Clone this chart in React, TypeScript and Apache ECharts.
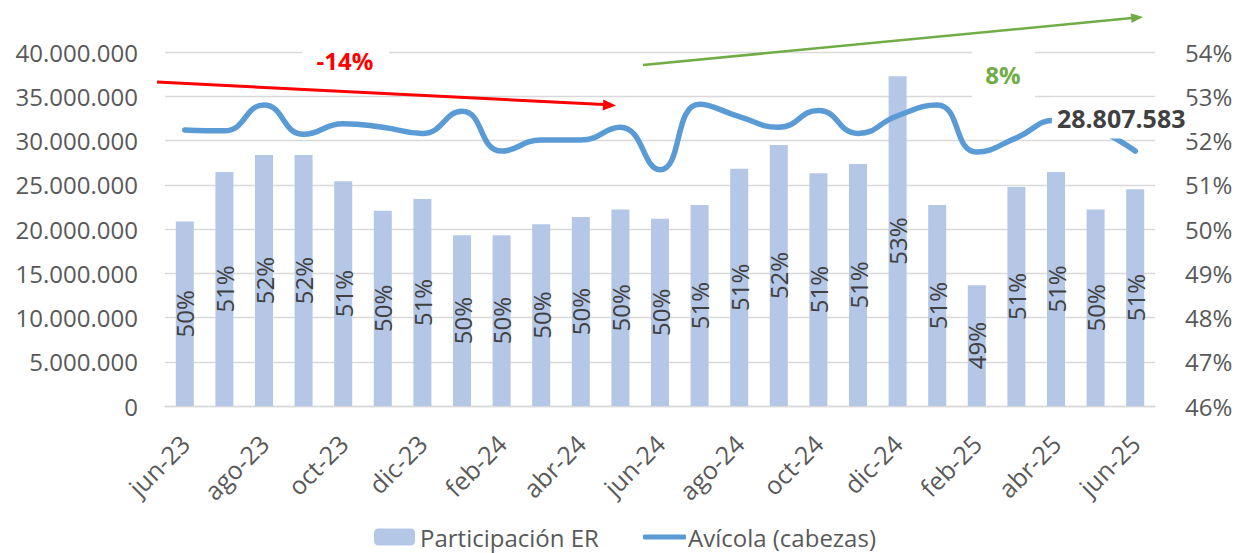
import React, { useEffect, useRef } from 'react';
import * as echarts from 'echarts';

const categories = ['jun-23','jul-23','ago-23','sep-23','oct-23','nov-23','dic-23','ene-24','feb-24','mar-24','abr-24','may-24','jun-24','jul-24','ago-24','sep-24','oct-24','nov-24','dic-24','ene-25','feb-25','mar-25','abr-25','may-25','jun-25'];
const participacionER = [50.17,51.29,51.67,51.67,51.08,50.41,50.68,49.86,49.86,50.11,50.27,50.44,50.23,50.54,51.36,51.90,51.26,51.47,53.45,50.54,48.73,50.95,51.29,50.44,50.90];
const avicola = [31200000,31100000,34000000,30700000,31900000,31500000,30800000,33300000,28800000,30050000,30050000,31500000,26700000,34100000,32700000,31500000,33400000,30800000,32800000,34000000,28700000,30300000,32300000,31300000,28807583];
const leftTicks = { min: 0, max: 40000000, interval: 5000000 };
const rightTicks = { min: 46, max: 54, interval: 1 };
const seriesNames = ['Participación ER', 'Avícola (cabezas)'];
const trendLabels = ['-14%', '8%'];

const FONT = '"Open Sans", sans-serif';
const fmt = (n: number) => String(Math.round(n)).replace(/\B(?=(\d{3})+(?!\d))/g, '.');

export default function App() {
  const ref = useRef<HTMLDivElement>(null);
  useEffect(() => {
    if (!ref.current) return;
    const chart = echarts.init(ref.current, null, { renderer: 'svg' });
    const last = avicola.length - 1;
    chart.setOption({
      animation: false,
      backgroundColor: '#ffffff',
      textStyle: { fontFamily: FONT },
      grid: { left: 165, right: 91, top: 52, bottom: 147, containLabel: false },
      legend: [
        {
          data: [seriesNames[0]], left: 369, top: 520, itemWidth: 41, itemHeight: 17, itemGap: 0,
          textStyle: { fontSize: 24, color: '#595959', fontFamily: FONT, padding: [0, 0, 0, 0] },
        },
        {
          data: [{ name: seriesNames[1], icon: 'roundRect' }], left: 638, top: 520, itemWidth: 43, itemHeight: 5, itemGap: 0,
          textStyle: { fontSize: 24, color: '#595959', fontFamily: FONT, padding: [0, 0, 0, -3] },
        },
      ],
      xAxis: {
        type: 'category',
        data: categories,
        boundaryGap: true,
        axisLine: { lineStyle: { color: '#D9D9D9', width: 1.3 } },
        axisTick: { interval: 1, length: 8, lineStyle: { color: '#D9D9D9', width: 1.3 } },
        axisLabel: { interval: 1, rotate: 45, margin: 33, fontSize: 25, color: '#595959', fontFamily: FONT },
      },
      yAxis: [
        {
          type: 'value', ...leftTicks,
          axisLine: { show: false }, axisTick: { show: false },
          splitLine: { lineStyle: { color: '#D9D9D9', width: 1.3 } },
          axisLabel: { formatter: (v: number) => fmt(v), margin: 27, fontSize: 24, color: '#595959', fontFamily: FONT },
        },
        {
          type: 'value', ...rightTicks,
          axisLine: { show: false }, axisTick: { show: false }, splitLine: { show: false },
          axisLabel: { formatter: '{value}%', margin: 30, fontSize: 24, color: '#595959', fontFamily: FONT },
        },
      ],
      series: [
        {
          name: seriesNames[0],
          type: 'bar',
          yAxisIndex: 1,
          data: participacionER,
          barWidth: 18,
          itemStyle: { color: '#B4C7E7' },
          label: {
            show: true, position: 'inside', rotate: 90,
            formatter: (p: any) => Math.round(p.value) + '%',
            fontSize: 24, color: '#404040', fontFamily: FONT,
          },
          z: 2,
        },
        {
          name: seriesNames[1],
          type: 'line',
          yAxisIndex: 0,
          data: avicola,
          smooth: 0.5,
          symbol: 'none',
          lineStyle: { color: '#5B9BD5', width: 5.5, cap: 'round' },
          itemStyle: { color: '#5B9BD5' },
          z: 3,
          markPoint: {
            symbol: 'rect', symbolSize: 1,
            itemStyle: { color: 'rgba(0,0,0,0)' },
            data: [{
              coord: [categories[last], avicola[last]],
              value: avicola[last],
              label: {
                show: true, position: 'inside', offset: [-14, -33],
                formatter: fmt(avicola[last]),
                fontSize: 25, fontWeight: 'bold', color: '#404040', fontFamily: FONT,
                backgroundColor: '#ffffff', padding: [8, 5, 8, 5],
              },
            }],
          },
        },
      ],
      graphic: [
        { type: 'rect', shape: { x: 302, y: 42, width: 87, height: 36 }, style: { fill: '#ffffff' }, z: 10 },
        { type: 'text', x: 345, y: 60, style: { text: trendLabels[0], fill: '#FF0000', font: `bold 24px ${FONT}`, align: 'center', verticalAlign: 'middle' }, z: 11 },
        { type: 'line', shape: { x1: 157, y1: 82, x2: 604, y2: 104.5 }, style: { stroke: '#FF0000', lineWidth: 3 }, z: 11 },
        { type: 'polygon', shape: { points: [[616, 105.6], [602.7, 110.4], [603.3, 99.4]] }, style: { fill: '#FF0000' }, z: 11 },
        { type: 'rect', shape: { x: 972, y: 44, width: 63, height: 56 }, style: { fill: '#ffffff' }, z: 10 },
        { type: 'text', x: 1003, y: 74, style: { text: trendLabels[1], fill: '#70AD47', font: `bold 24px ${FONT}`, align: 'center', verticalAlign: 'middle' }, z: 11 },
        { type: 'line', shape: { x1: 643, y1: 65, x2: 1132, y2: 18 }, style: { stroke: '#70AD47', lineWidth: 2.5 }, z: 11 },
        { type: 'polygon', shape: { points: [[1143, 17], [1131.6, 23.1], [1130.6, 13.2]] }, style: { fill: '#70AD47' }, z: 11 },
      ],
    });
    return () => chart.dispose();
  }, []);
  return <div ref={ref} style={{ position: 'fixed', left: 0, top: 0, width: 1246, height: 553 }} />;
}
